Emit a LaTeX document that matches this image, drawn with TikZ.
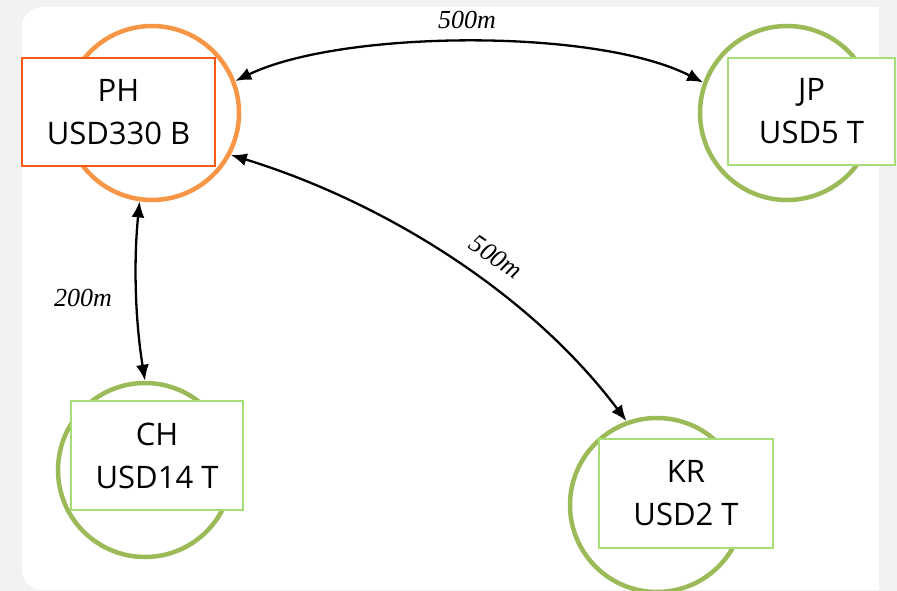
\documentclass[tikz,border=0pt]{standalone}
\usepackage{fontspec}
\setmainfont{Open Sans}
\newfontfamily\lblfont{Liberation Serif}
\usetikzlibrary{arrows.meta}
\definecolor{bggrey}{HTML}{F2F2F2}
\definecolor{orangering}{HTML}{F79646}
\definecolor{greenring}{HTML}{9BBB59}
\definecolor{phedge}{HTML}{FA5A14}
\definecolor{greenedge}{HTML}{A6DD76}
\tikzset{
  ring/.style={circle, draw, line width=4.5pt, minimum size=174pt, inner sep=0pt},
  country/.style={rectangle, draw, fill=white, line width=1.6pt, inner sep=0pt,
    align=center, font=\fontsize{31}{43}\selectfont},
  link/.style={draw=black, line width=2.3pt, {Latex[length=16pt,width=13pt]}-{Latex[length=16pt,width=13pt]}},
  dist/.style={font=\lblfont\itshape\fontsize{26}{28}\selectfont, inner sep=0pt}
}
\begin{document}
\begin{tikzpicture}[x=1pt,y=-1pt]
\useasboundingbox (0,0) rectangle (897,591);
\fill[bggrey] (0,0) rectangle (897,591);
\fill[white, rounded corners=20pt] (22,7) rectangle (879,590);
\fill[white] (800,7) rectangle (879,590);
% rings
\node[ring, draw=orangering] (ph) at (152,113) {};
\node[ring, draw=greenring] (jp) at (787,113) {};
\node[ring, draw=greenring] (ch) at (145,470) {};
\node[ring, draw=greenring] (kr) at (657,505) {};
% boxes
\node[country, draw=phedge, minimum width=193pt, minimum height=108pt] (phbox) at (118.5,112) {PH\\USD330 B};
\node[country, draw=greenedge, minimum width=167pt, minimum height=107pt] (jpbox) at (811.5,111.5) {JP\\USD5 T};
\node[country, draw=greenedge, minimum width=172pt, minimum height=109pt] (chbox) at (157,455.5) {CH\\USD14 T};
\node[country, draw=greenedge, minimum width=174pt, minimum height=109pt] (krbox) at (686,493.5) {KR\\USD2 T};
% links
\draw[link] (ph.21) .. controls +(105,-51) and +(-107,-55) .. (jp.160.7);
\draw[link] (ph.-28) .. controls +(153,47) and +(-96,-128) .. (kr.110);
\draw[link] (ph.-98) .. controls +(-6,60) and +(-10,-62) .. (ch.90);
% labels
\node[dist] (l1) at (467,20) {500m};
\node[dist, rotate=-34] (l2) at (496,257) {500m};
\node[dist] (l3) at (83,298) {200m};
\end{tikzpicture}
\end{document}
